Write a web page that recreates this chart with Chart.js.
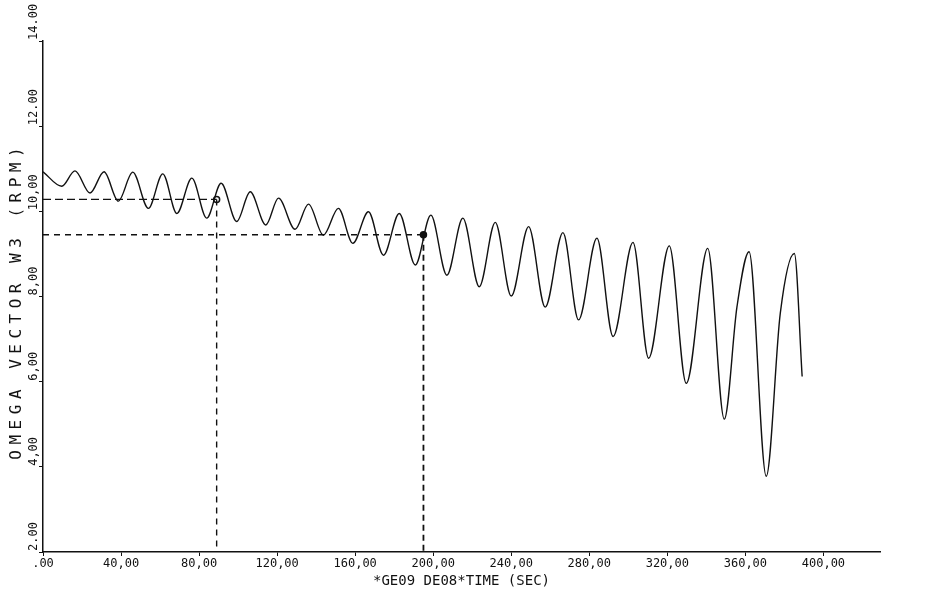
<!DOCTYPE html>
<html>
<head>
<meta charset="utf-8">
<script src="https://cdn.jsdelivr.net/npm/chart.js@4.4.1/dist/chart.umd.min.js"></script>
<style>
  body { margin: 0; background: #fff; }
  #grafico { display: block; }
</style>
</head>
<body>
<canvas id="grafico" width="943" height="596"></canvas>
<script>
// Tempos (s) dos picos e vales
var tempos = [0, 9.6, 16.4, 24.1, 31.3, 38.6, 46.0, 54.0, 61.4, 68.6, 76.3, 83.9, 91.3, 99.3, 106.2,
    114.2, 120.7, 129.2, 136.1, 143.7, 151.4, 158.8, 166.8, 174.5, 182.6, 190.8, 198.8, 207.0,
    215.2, 223.6, 231.8, 240.0, 248.9, 257.4, 266.5, 274.5, 283.9, 292.2, 302.4, 310.4, 321.0,
    329.7, 340.7, 349.2, 355.7, 361.9, 370.7, 377.9, 385.1, 389.1];

// Valores de omega W3 (RPM) nesses tempos
var omega = [10.93, 10.59, 10.95, 10.43, 10.93, 10.24, 10.92, 10.07, 10.88, 9.95, 10.78, 9.84, 10.66,
    9.76, 10.46, 9.68, 10.31, 9.58, 10.17, 9.44, 10.07, 9.25, 9.99, 8.97, 9.95, 8.74, 9.91, 8.50,
    9.84, 8.23, 9.74, 8.01, 9.64, 7.75, 9.50, 7.45, 9.37, 7.06, 9.27, 6.55, 9.19, 5.96, 9.13, 5.12,
    7.76, 9.05, 3.78, 7.61, 9.01, 6.12];

// Os dois pontos marcados com as linhas tracejadas
var marcaTempo = [89.0, 195.0];
var marcaOmega = [10.28, 9.45];

// Rotulos dos eixos
var valoresX = [0, 40, 80, 120, 160, 200, 240, 280, 320, 360, 400];
var rotulosX = ['.00', '40,00', '80,00', '120,00', '160,00', '200,00', '240,00', '280,00', '320,00', '360,00', '400,00'];
var valoresY = [2, 4, 6, 8, 10, 12, 14];
var rotulosY = ['2.00', '4,00', '6,00', '8,00', '10,00', '12.00', '14.00'];

var fonte = "'DejaVu Sans Mono', monospace";

// Junta tempo e valor para o Chart.js
var curva = [];
for (var i = 0; i < tempos.length; i++) {
    curva.push({ x: tempos[i], y: omega[i] });
}

var marcas = [];
for (var i = 0; i < marcaTempo.length; i++) {
    marcas.push({ x: marcaTempo[i], y: marcaOmega[i] });
}

function tracejado(dados, dash, largura) {
    return {
        data: dados,
        borderColor: '#111',
        borderWidth: largura,
        borderDash: dash,
        pointRadius: 0,
        tension: 0,
        fill: false
    };
}

// Rotulos e titulo do eixo Y desenhados na vertical, como na plotadora
var textoVertical = {
    id: 'textoVertical',
    afterDraw: function(chart) {
        var ctx = chart.ctx;
        var escala = chart.scales.y;
        ctx.save();
        ctx.fillStyle = '#111';
        ctx.textBaseline = 'middle';
        ctx.font = '12px ' + fonte;
        for (var i = 0; i < valoresY.length; i++) {
            var py = escala.getPixelForValue(valoresY[i]);
            ctx.save();
            ctx.translate(34, py - 1);
            ctx.rotate(-Math.PI / 2);
            ctx.textAlign = 'left';
            ctx.fillText(rotulosY[i], 0, 0);
            ctx.restore();
        }
        // titulo do eixo Y, com letras espacadas
        ctx.save();
        ctx.font = '16px ' + fonte;
        ctx.letterSpacing = '5.5px';
        ctx.translate(17, escala.getPixelForValue(7.9));
        ctx.rotate(-Math.PI / 2);
        ctx.textAlign = 'center';
        ctx.fillText('OMEGA VECTOR W3 (RPM)', 0, 0);
        ctx.restore();
        ctx.restore();
    }
};

new Chart(document.getElementById('grafico'), {
    type: 'line',
    data: {
        datasets: [
            {
                data: curva,
                borderColor: '#111',
                borderWidth: 1.4,
                pointRadius: 0,
                cubicInterpolationMode: 'monotone',
                fill: false
            },
            tracejado([{ x: 0, y: marcaOmega[0] }, marcas[0]], [8, 4], 1.4),
            tracejado([marcas[0], { x: marcaTempo[0], y: 2 }], [6, 5], 1.4),
            tracejado([{ x: 0, y: marcaOmega[1] }, marcas[1]], [6, 5], 1.4),
            tracejado([marcas[1], { x: marcaTempo[1], y: 2 }], [6, 4], 1.8),
            {
                data: marcas,
                showLine: false,
                pointRadius: 3,
                pointBorderColor: '#111',
                pointBorderWidth: 1.5,
                pointBackgroundColor: ['#fff', '#111']
            }
        ]
    },
    options: {
        responsive: false,
        animation: false,
        devicePixelRatio: 1,
        layout: { padding: { left: 0, top: 41, right: 63, bottom: 0 } },
        plugins: { legend: { display: false }, tooltip: { enabled: false } },
        scales: {
            x: {
                type: 'linear',
                min: 0,
                max: 429,
                afterFit: function(s) { s.height = 44; },
                afterBuildTicks: function(s) {
                    s.ticks = valoresX.map(function(v) { return { value: v }; });
                },
                grid: { drawOnChartArea: false, color: '#111', tickLength: 4 },
                border: { color: '#111', width: 1.5 },
                ticks: {
                    color: '#111',
                    padding: 1,
                    maxRotation: 0,
                    font: { family: fonte, size: 12 },
                    callback: function(v) {
                        var k = valoresX.indexOf(v);
                        return k >= 0 ? rotulosX[k] : '';
                    }
                },
                title: {
                    display: true,
                    text: '*GE09 DE08*TIME (SEC)',
                    color: '#111',
                    font: { family: fonte, size: 14 },
                    padding: { top: 0, bottom: 6 }
                }
            },
            y: {
                min: 2,
                max: 14,
                afterFit: function(s) { s.width = 43; },
                afterBuildTicks: function(s) {
                    s.ticks = valoresY.map(function(v) { return { value: v }; });
                },
                grid: { drawOnChartArea: false, color: '#111', tickLength: 4 },
                border: { color: '#111', width: 1.5 },
                ticks: { display: false },
                title: { display: false }
            }
        }
    },
    plugins: [textoVertical]
});
</script>
</body>
</html>
